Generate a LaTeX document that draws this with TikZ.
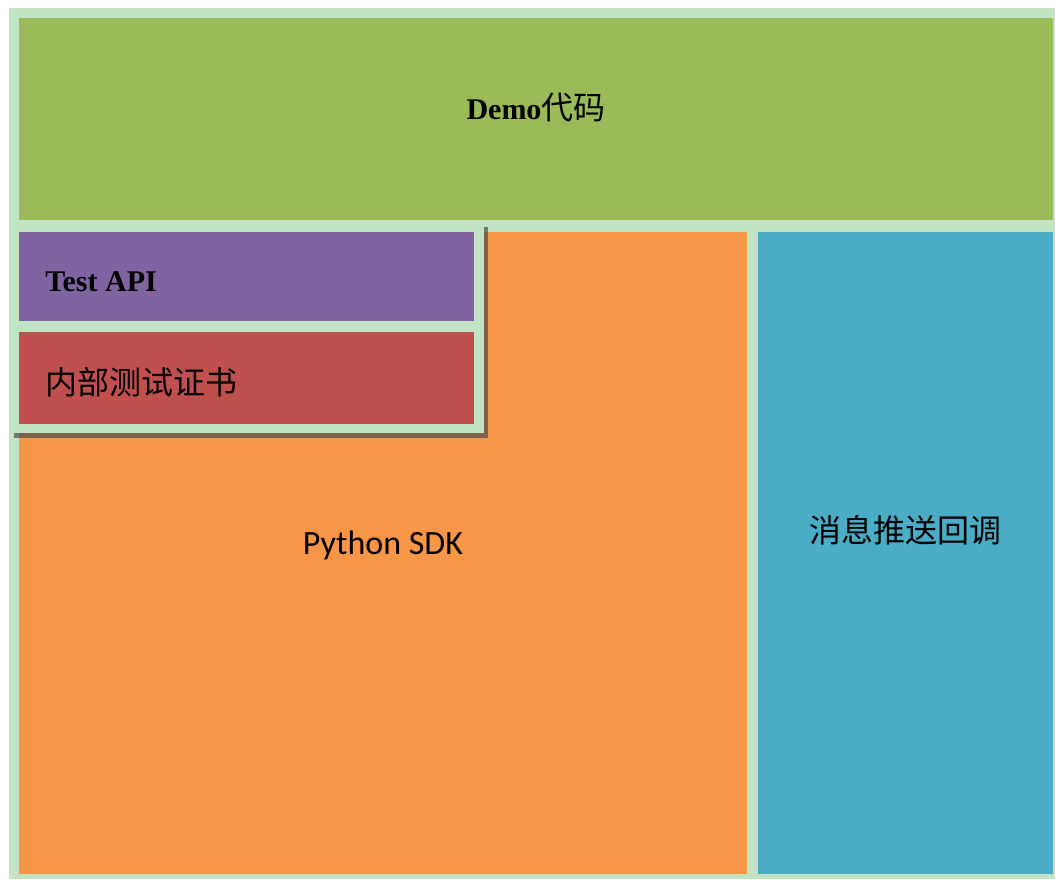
\documentclass[tikz,border=0pt]{standalone}
\usepackage{fontspec}
\setmainfont{Liberation Serif}
\newfontfamily\cjk{Noto Sans CJK SC}
\newfontfamily\calibri{Carlito}
\usetikzlibrary{positioning,shadows}
\definecolor{marco}{HTML}{C2E4C4}
\definecolor{verde}{HTML}{9BBB59}
\definecolor{morado}{HTML}{8064A2}
\definecolor{rojo}{HTML}{C0504D}
\definecolor{naranja}{HTML}{F79646}
\definecolor{azul}{HTML}{4BACC6}
\tikzstyle{bloque}=[rectangle,inner sep=0,outer sep=0]
\tikzstyle{texto}=[inner sep=0,font=\fontsize{16}{19}\selectfont]
\tikzstyle{panel}=[bloque,fill=marco,drop shadow={shadow xshift=2pt,shadow yshift=-2.5pt,opacity=.7,fill=black!70}]

\begin{document}
\begin{tikzpicture}[x=0.5pt,y=-0.5pt]
				\useasboundingbox (0,0) rectangle (1055,879);
				\fill[marco] (9,8) rectangle (1055,879);
				% fila de arriba
				\node[bloque,fill=verde,minimum width=517pt,minimum height=101pt](demo) at (536,119){};
				\node[texto] at ([yshift=5.5pt]demo.center){\bfseries\fontsize{15}{18}\selectfont Demo\cjk\mdseries\fontsize{16}{19}\selectfont 代码};
				% SDK y callbacks
				\node[bloque,fill=naranja,minimum width=364pt,minimum height=321pt](sdk) at (383,553){};
				\node[bloque,fill=azul,minimum width=147.5pt,minimum height=321pt](push)[right=5.5pt of sdk]{};
				\node[texto,font=\calibri\fontsize{17}{20}\selectfont] at ([yshift=4pt]sdk.center){Python SDK};
				\node[texto,font=\cjk\fontsize{16}{19}\selectfont] at ([yshift=11.5pt]push.center){消息推送回调};
				% panel de pruebas
				\node[panel,minimum width=237pt,minimum height=105.5pt](prueba) at (247,327.5){};
				\node[bloque,fill=morado,minimum width=227.5pt,minimum height=44.5pt](api) at (246.5,276.5){};
				\node[bloque,fill=rojo,minimum width=227.5pt,minimum height=46pt](cert)[below=5.5pt of api]{};
				\node[texto,anchor=west] at ([xshift=13pt,yshift=-2.5pt]api.west){\bfseries\fontsize{15}{18}\selectfont Test API};
				\node[texto,anchor=west,font=\cjk\fontsize{16}{19}\selectfont] at ([xshift=13pt,yshift=-2pt]cert.west){内部测试证书};
\end{tikzpicture}
\end{document}
